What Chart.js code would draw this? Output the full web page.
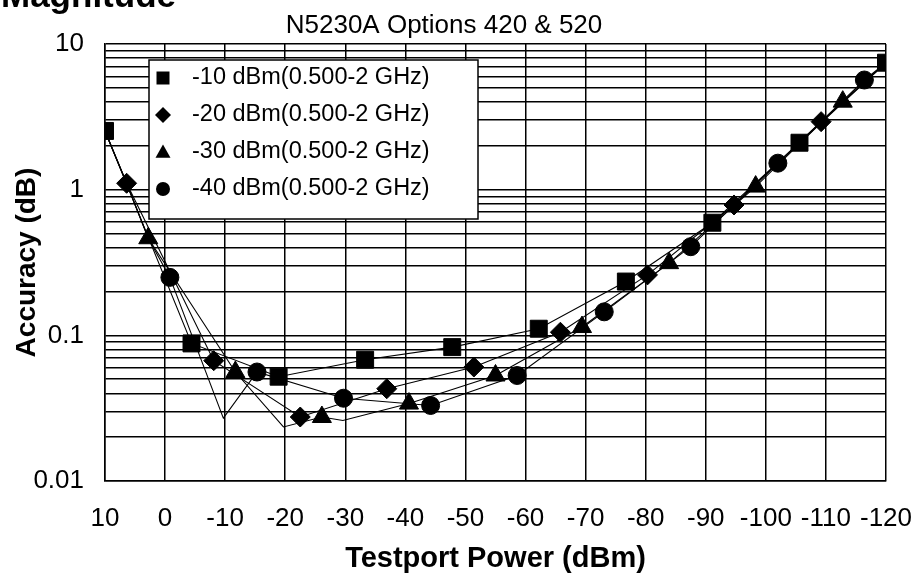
<!DOCTYPE html>
<html>
<head>
<meta charset="utf-8">
<title>N5230A Options 420 & 520</title>
<script src="https://cdn.jsdelivr.net/npm/chart.js@4.4.1/dist/chart.umd.min.js"></script>
<style>
  html, body { margin: 0; padding: 0; background: #fff; }
  #wrap { width: 912px; height: 576px; }
</style>
</head>
<body>
<div id="wrap"><canvas id="accuracyChart" width="912" height="576"></canvas></div>
<script>
const chartTitle = 'N5230A Options 420 & 520';
const pageHeading = 'Magnitude';
const seriesLabels = ['-10 dBm(0.500-2 GHz)', '-20 dBm(0.500-2 GHz)', '-30 dBm(0.500-2 GHz)', '-40 dBm(0.500-2 GHz)'];
const pointStyles = ['rect', 'rectRot', 'triangle', 'circle'];
const pointSizes = [12, 10, 11, 9];

// markers: testport power (dBm) / accuracy (dB)
const squareX = [10, -4.4, -18.9, -33.3, -47.8, -62.2, -76.7, -91.1, -105.6, -120];
const squareY = [2.53, 0.088, 0.052, 0.068, 0.083, 0.111, 0.234, 0.593, 2.10, 7.44];
const diamondX = [6.4, -8.1, -22.5, -36.9, -51.4, -65.8, -80.3, -94.7, -109.2];
const diamondY = [1.106, 0.067, 0.0275, 0.043, 0.0606, 0.105, 0.26, 0.785, 2.93];
const triangleX = [2.8, -11.7, -26.1, -40.6, -55, -69.4, -83.9, -98.3, -112.8];
const triangleY = [0.464, 0.056, 0.0275, 0.034, 0.053, 0.114, 0.313, 1.05, 4.02];
const circleX = [-0.8, -15.3, -29.7, -44.2, -58.6, -73.1, -87.5, -102, -116.4];
const circleY = [0.25, 0.056, 0.037, 0.033, 0.053, 0.145, 0.406, 1.52, 5.66];

// thin trace lines (no markers)
const line10X = [10, -4.4, -18.9, -33.3, -47.8, -62.2, -76.7, -91.1, -105.6, -120];
const line10Y = [2.53, 0.088, 0.052, 0.068, 0.083, 0.111, 0.234, 0.593, 2.10, 7.44];
const line20X = [10, 6.4, -8.1, -22.5, -36.9, -51.4, -65.8, -80.3, -94.7, -109.2, -120];
const line20Y = [2.53, 1.106, 0.067, 0.0275, 0.043, 0.0606, 0.105, 0.26, 0.785, 2.93, 7.44];
const line30X = [10, 6.4, 2.8, -11.7, -19.7, -26.1, -29.6, -40.6, -55, -69.4, -83.9, -98.3, -112.8, -120];
const line30Y = [2.53, 1.106, 0.464, 0.056, 0.0235, 0.0275, 0.026, 0.034, 0.053, 0.114, 0.313, 1.05, 4.02, 7.44];
const line40X = [10, 6.4, 2.8, -0.8, -9.7, -15.3, -29.7, -44.2, -58.6, -73.1, -87.5, -102, -116.4, -120];
const line40Y = [2.53, 1.106, 0.464, 0.25, 0.027, 0.056, 0.037, 0.033, 0.053, 0.145, 0.406, 1.52, 5.66, 7.44];

// axes
const xMin = -120, xMax = 10, xStep = 10;
const yDecades = [0.01, 0.1, 1];
const yMinorSteps = [1, 2, 3, 4, 5, 6, 7, 8, 9];
const yTickValues = [0.01, 0.1, 1, 10];
const yTickLabels = ['0.01', '0.1', '1', '10'];

const fontFamily = "'Liberation Sans', Arial, sans-serif";

function toPoints(xs, ys) {
  return xs.map((x, i) => ({ x: x, y: ys[i] }));
}

const lineSets = [[line10X, line10Y], [line20X, line20Y], [line30X, line30Y], [line40X, line40Y]];
const markerSets = [[squareX, squareY], [diamondX, diamondY], [triangleX, triangleY], [circleX, circleY]];

const datasets = [];
lineSets.forEach(([xs, ys], i) => {
  datasets.push({
    label: 'trace ' + seriesLabels[i],
    data: toPoints(xs, ys),
    showLine: true,
    borderColor: '#000',
    borderWidth: 1.1,
    pointRadius: 0,
    tension: 0
  });
});
markerSets.forEach(([xs, ys], i) => {
  datasets.push({
    label: seriesLabels[i],
    data: toPoints(xs, ys),
    showLine: false,
    pointStyle: pointStyles[i],
    pointRadius: pointSizes[i],
    backgroundColor: '#000',
    borderColor: '#000',
    borderWidth: 1
  });
});

function drawMarker(ctx, style, x, y, r) {
  ctx.beginPath();
  if (style === 'rect') {
    ctx.rect(x - r, y - r, 2 * r, 2 * r);
  } else if (style === 'rectRot') {
    ctx.moveTo(x, y - r); ctx.lineTo(x + r, y); ctx.lineTo(x, y + r); ctx.lineTo(x - r, y);
    ctx.closePath();
  } else if (style === 'triangle') {
    ctx.moveTo(x, y - r); ctx.lineTo(x + r, y + r * 0.75); ctx.lineTo(x - r, y + r * 0.75);
    ctx.closePath();
  } else {
    ctx.arc(x, y, r, 0, Math.PI * 2);
  }
  ctx.fill();
}

const decorPlugin = {
  id: 'decor',
  afterDatasetsDraw(chart) {
    const ctx = chart.ctx;
    const area = chart.chartArea;
    // legend box inside plot
    const bx = area.left + 44, by = area.top + 16, bw = 329, bh = 159;
    ctx.save();
    ctx.fillStyle = '#fff';
    ctx.fillRect(bx, by, bw, bh);
    ctx.strokeStyle = '#000';
    ctx.lineWidth = 1.5;
    ctx.strokeRect(bx, by, bw, bh);
    const legendSizes = [6.5, 8, 7.5, 7];
    ctx.fillStyle = '#000';
    ctx.font = '23.5px ' + fontFamily;
    ctx.textBaseline = 'middle';
    ctx.textAlign = 'left';
    seriesLabels.forEach((label, i) => {
      const rowY = by + 18 + i * 37;
      drawMarker(ctx, pointStyles[i], bx + 14, rowY, legendSizes[i]);
      ctx.fillText(label, bx + 43, rowY);
    });
    ctx.restore();
  },
  afterDraw(chart) {
    const ctx = chart.ctx;
    ctx.save();
    ctx.fillStyle = '#000';
    ctx.textBaseline = 'alphabetic';
    ctx.textAlign = 'center';
    ctx.font = '26px ' + fontFamily;
    ctx.fillText(chartTitle, 444, 33);
    ctx.textAlign = 'left';
    ctx.font = 'bold 35px ' + fontFamily;
    ctx.fillText(pageHeading, 1, 7);
    ctx.restore();
  }
};

new Chart(document.getElementById('accuracyChart'), {
  type: 'scatter',
  data: { datasets },
  options: {
    responsive: false,
    animation: false,
    devicePixelRatio: 1,
    layout: { padding: { top: 44, right: 26, left: 0, bottom: 0 } },
    plugins: {
      legend: { display: false },
      tooltip: { enabled: false }
    },
    scales: {
      x: {
        type: 'linear',
        min: xMin,
        max: xMax,
        reverse: true,
        afterFit: (scale) => {
          scale.height = 95;
          scale.paddingLeft = 0;
          scale.paddingRight = 0;
        },
        ticks: {
          stepSize: xStep,
          autoSkip: false,
          maxRotation: 0,
          padding: 22,
          color: '#000',
          font: { family: fontFamily, size: 26 }
        },
        grid: { color: '#000', lineWidth: 1.5, drawTicks: false },
        border: { color: '#000', width: 1.5 },
        title: {
          display: true,
          text: 'Testport Power (dBm)',
          color: '#000',
          font: { family: fontFamily, size: 29, weight: 'bold' },
          padding: { top: 0, bottom: 0 }
        }
      },
      y: {
        type: 'logarithmic',
        min: 0.01,
        max: 10,
        afterFit: (scale) => {
          scale.width = 105;
          scale.paddingTop = 0;
          scale.paddingBottom = 0;
        },
        afterBuildTicks: (scale) => {
          const ticks = [];
          yDecades.forEach(d => {
            yMinorSteps.forEach(m => ticks.push({ value: +(d * m).toPrecision(3) }));
          });
          ticks.push({ value: yTickValues[yTickValues.length - 1] });
          scale.ticks = ticks;
        },
        ticks: {
          autoSkip: false,
          padding: 21,
          color: '#000',
          font: { family: fontFamily, size: 26 },
          callback: (value) => {
            const i = yTickValues.indexOf(value);
            return i >= 0 ? yTickLabels[i] : '';
          }
        },
        grid: { color: '#000', lineWidth: 1.5, drawTicks: false },
        border: { color: '#000', width: 1.5 },
        title: {
          display: true,
          text: 'Accuracy (dB)',
          color: '#000',
          font: { family: fontFamily, size: 28, weight: 'bold' },
          padding: { top: 10, bottom: 0 }
        }
      }
    }
  },
  plugins: [decorPlugin]
});
</script>
</body>
</html>
